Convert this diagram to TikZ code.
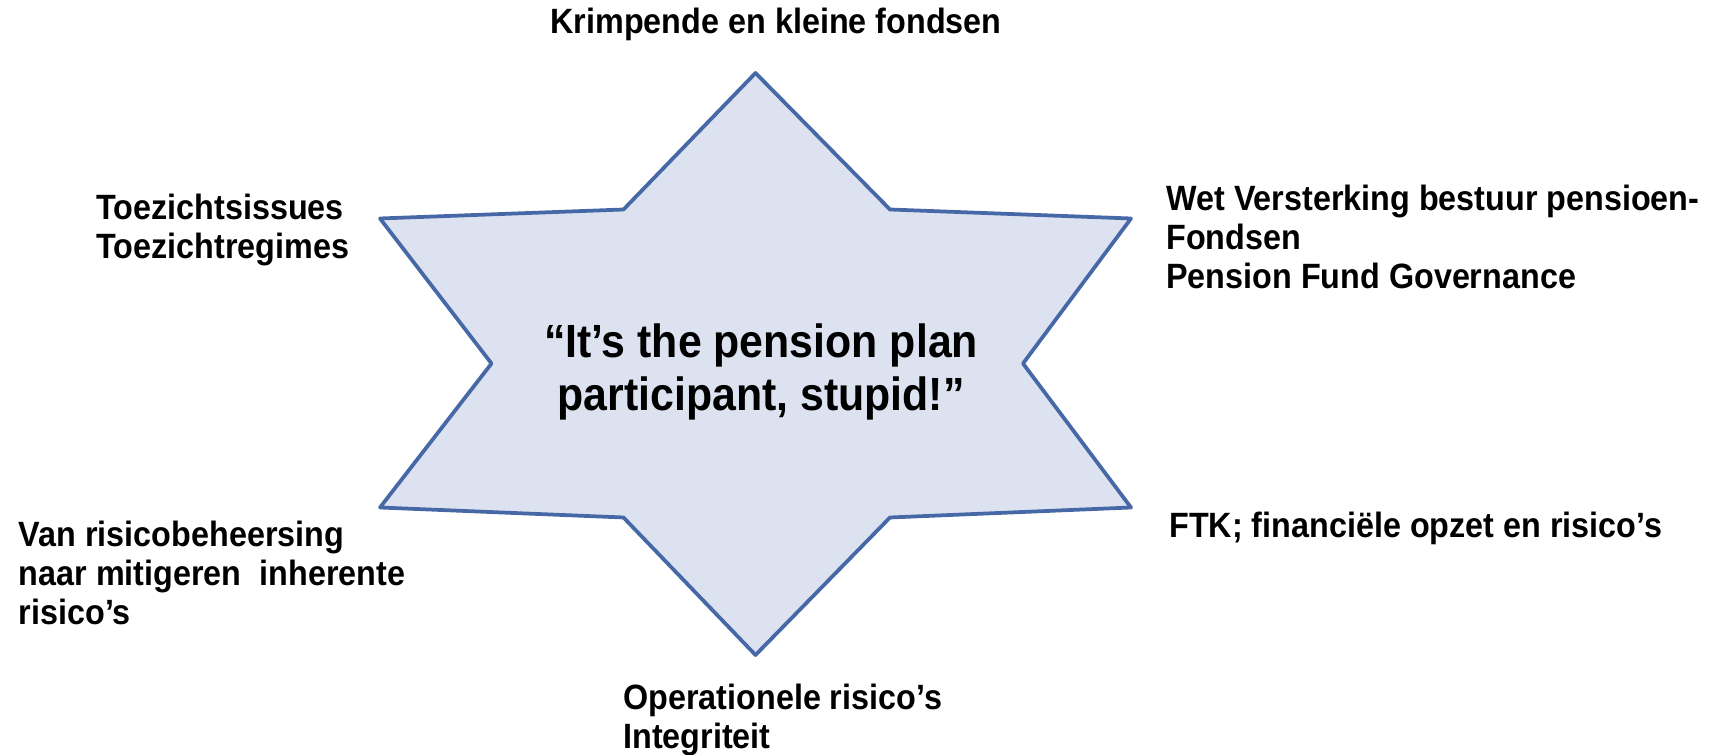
\documentclass[tikz,border=0pt]{standalone}
\usepackage{fontspec}
\setmainfont[FakeStretch=0.92]{Liberation Sans}
\usepackage{tikz}
\definecolor{starfill}{RGB}{220,226,240}
\definecolor{starline}{RGB}{70,104,166}

\begin{document}
\begin{tikzpicture}[
	lbl/.style={font=\bfseries\fontsize{20}{22}\selectfont, align=left, inner sep=0pt},
	motto/.style={font=\bfseries\fontsize{26.5}{30}\selectfont, align=center, inner sep=0pt}]
		%%%%% START %%%%%
		
		\useasboundingbox (0, 0) rectangle (34.24, 15.1);
		
		\draw[line width=0.75mm, color=starline, fill=starfill, line join=round] (15.11, 13.64) -- (12.47, 10.91) -- (7.60, 10.73) -- (9.83, 7.83)
			-- (7.60, 4.95) -- (12.47, 4.75) -- (15.11, 2.00) -- (17.80, 4.75)
			-- (22.62, 4.95) -- (20.46, 7.83) -- (22.62, 10.73) -- (17.80, 10.91) -- cycle;
		
		\node[motto] (center) at (15.22, 7.66) {“It’s the pension plan\\participant, stupid!”};
		
		\node[lbl, anchor=center] (top) at (15.52, 14.62) {Krimpende en kleine fondsen};
		\node[lbl, anchor=west] (upleft) at (1.92, 10.50) {Toezichtsissues\\Toezichtregimes};
		\node[lbl, anchor=west] (upright) at (23.32, 10.36) {Wet Versterking bestuur pensioen-\\Fondsen\\Pension Fund Governance};
		\node[lbl, anchor=west] (lowleft) at (0.37, 3.64) {Van risicobeheersing\\naar mitigeren~ inherente\\risico’s};
		\node[lbl, anchor=west] (lowright) at (23.38, 4.54) {FTK; financiële opzet en risico’s};
		\node[lbl, anchor=west] (bottom) at (12.46, 0.70) {Operationele risico’s\\Integriteit};
		
		%%%%% END %%%%%
	\end{tikzpicture}
\end{document}
